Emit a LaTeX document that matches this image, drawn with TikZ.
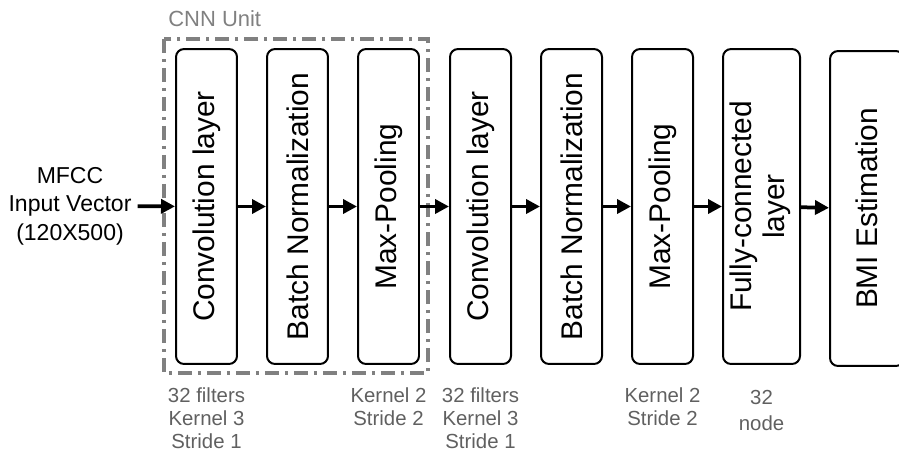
\documentclass[tikz,border=0pt]{standalone}
\usepackage{fontspec}
\setmainfont{Liberation Sans}
\usetikzlibrary{arrows.meta}
\definecolor{unitgray}{RGB}{128,128,128}
\definecolor{notegray}{RGB}{96,96,96}
\tikzset{
  layer/.style={draw, line width=0.04cm, rounded corners=0.16cm, minimum width=1.22cm,
    minimum height=6.3cm, inner sep=0pt, font=\fontsize{17}{19}\selectfont},
  flow/.style={line width=0.075cm, -{Triangle[length=0.28cm,width=0.28cm]}},
  note/.style={text=notegray, align=center, anchor=north, inner sep=0pt,
    font=\fontsize{11.6}{13.1}\selectfont},
  unitbox/.style={draw=unitgray, line width=0.075cm, dash pattern=on 0.28cm off 0.12cm on 0.06cm off 0.12cm}
}
\begin{document}
\begin{tikzpicture}[x=0.02cm, y=-0.02cm]
			%%%%% START %%%%%
			\useasboundingbox (0, 0) rectangle (899, 454);
			
			\draw[unitbox] (164, 39) rectangle (428, 373);
			\node[text=unitgray, anchor=west, inner sep=0pt, font=\fontsize{12.5}{14}\selectfont] (unit) at (168, 19) {CNN Unit};
			
			\node[align=center, font=\fontsize{13.1}{16.2}\selectfont] (in) at (70, 206) {MFCC\\Input Vector\\(120X500)};
			
			\node[layer] (conv1) at (206.5, 206.5) {\rotatebox{90}{Convolution layer}};
			\node[layer] (bn1) at (297.5, 206.5) {\rotatebox{90}{Batch Normalization}};
			\node[layer] (pool1) at (388.5, 206.5) {\rotatebox{90}{Max-Pooling}};
			\node[layer] (conv2) at (480.5, 206.5) {\rotatebox{90}{Convolution layer}};
			\node[layer] (bn2) at (571.5, 206.5) {\rotatebox{90}{Batch Normalization}};
			\node[layer] (pool2) at (662.5, 206.5) {\rotatebox{90}{Max-Pooling}};
			\node[layer, minimum width=1.54cm] (fc) at (761.5, 206.5) {\rotatebox{90}{\begin{tabular}{@{}c@{}}Fully-connected\\layer\end{tabular}}};
			\node[layer, minimum width=1.48cm] (bmi) at (867, 208.5) {\rotatebox{90}{BMI Estimation}};
			
			\draw[flow] (in) -- (conv1);
			\draw[flow] (conv1) -- (bn1);
			\draw[flow] (bn1) -- (pool1);
			\draw[flow] (pool1) -- (conv2);
			\draw[flow] (conv2) -- (bn2);
			\draw[flow] (bn2) -- (pool2);
			\draw[flow] (pool2) -- (fc);
			\draw[flow] (fc) -- (bmi);
			
			\node[note] (n1) at (206.5, 387) {32 filters\\Kernel 3\\Stride 1};
			\node[note] (n2) at (388.5, 387) {Kernel 2\\Stride 2};
			\node[note] (n3) at (480.5, 387) {32 filters\\Kernel 3\\Stride 1};
			\node[note] (n4) at (662.5, 387) {Kernel 2\\Stride 2};
			\node[note, font=\fontsize{11.6}{14.8}\selectfont] (n5) at (761.5, 390) {32\\node};
			
			%%%%% END %%%%%
\end{tikzpicture}
\end{document}
